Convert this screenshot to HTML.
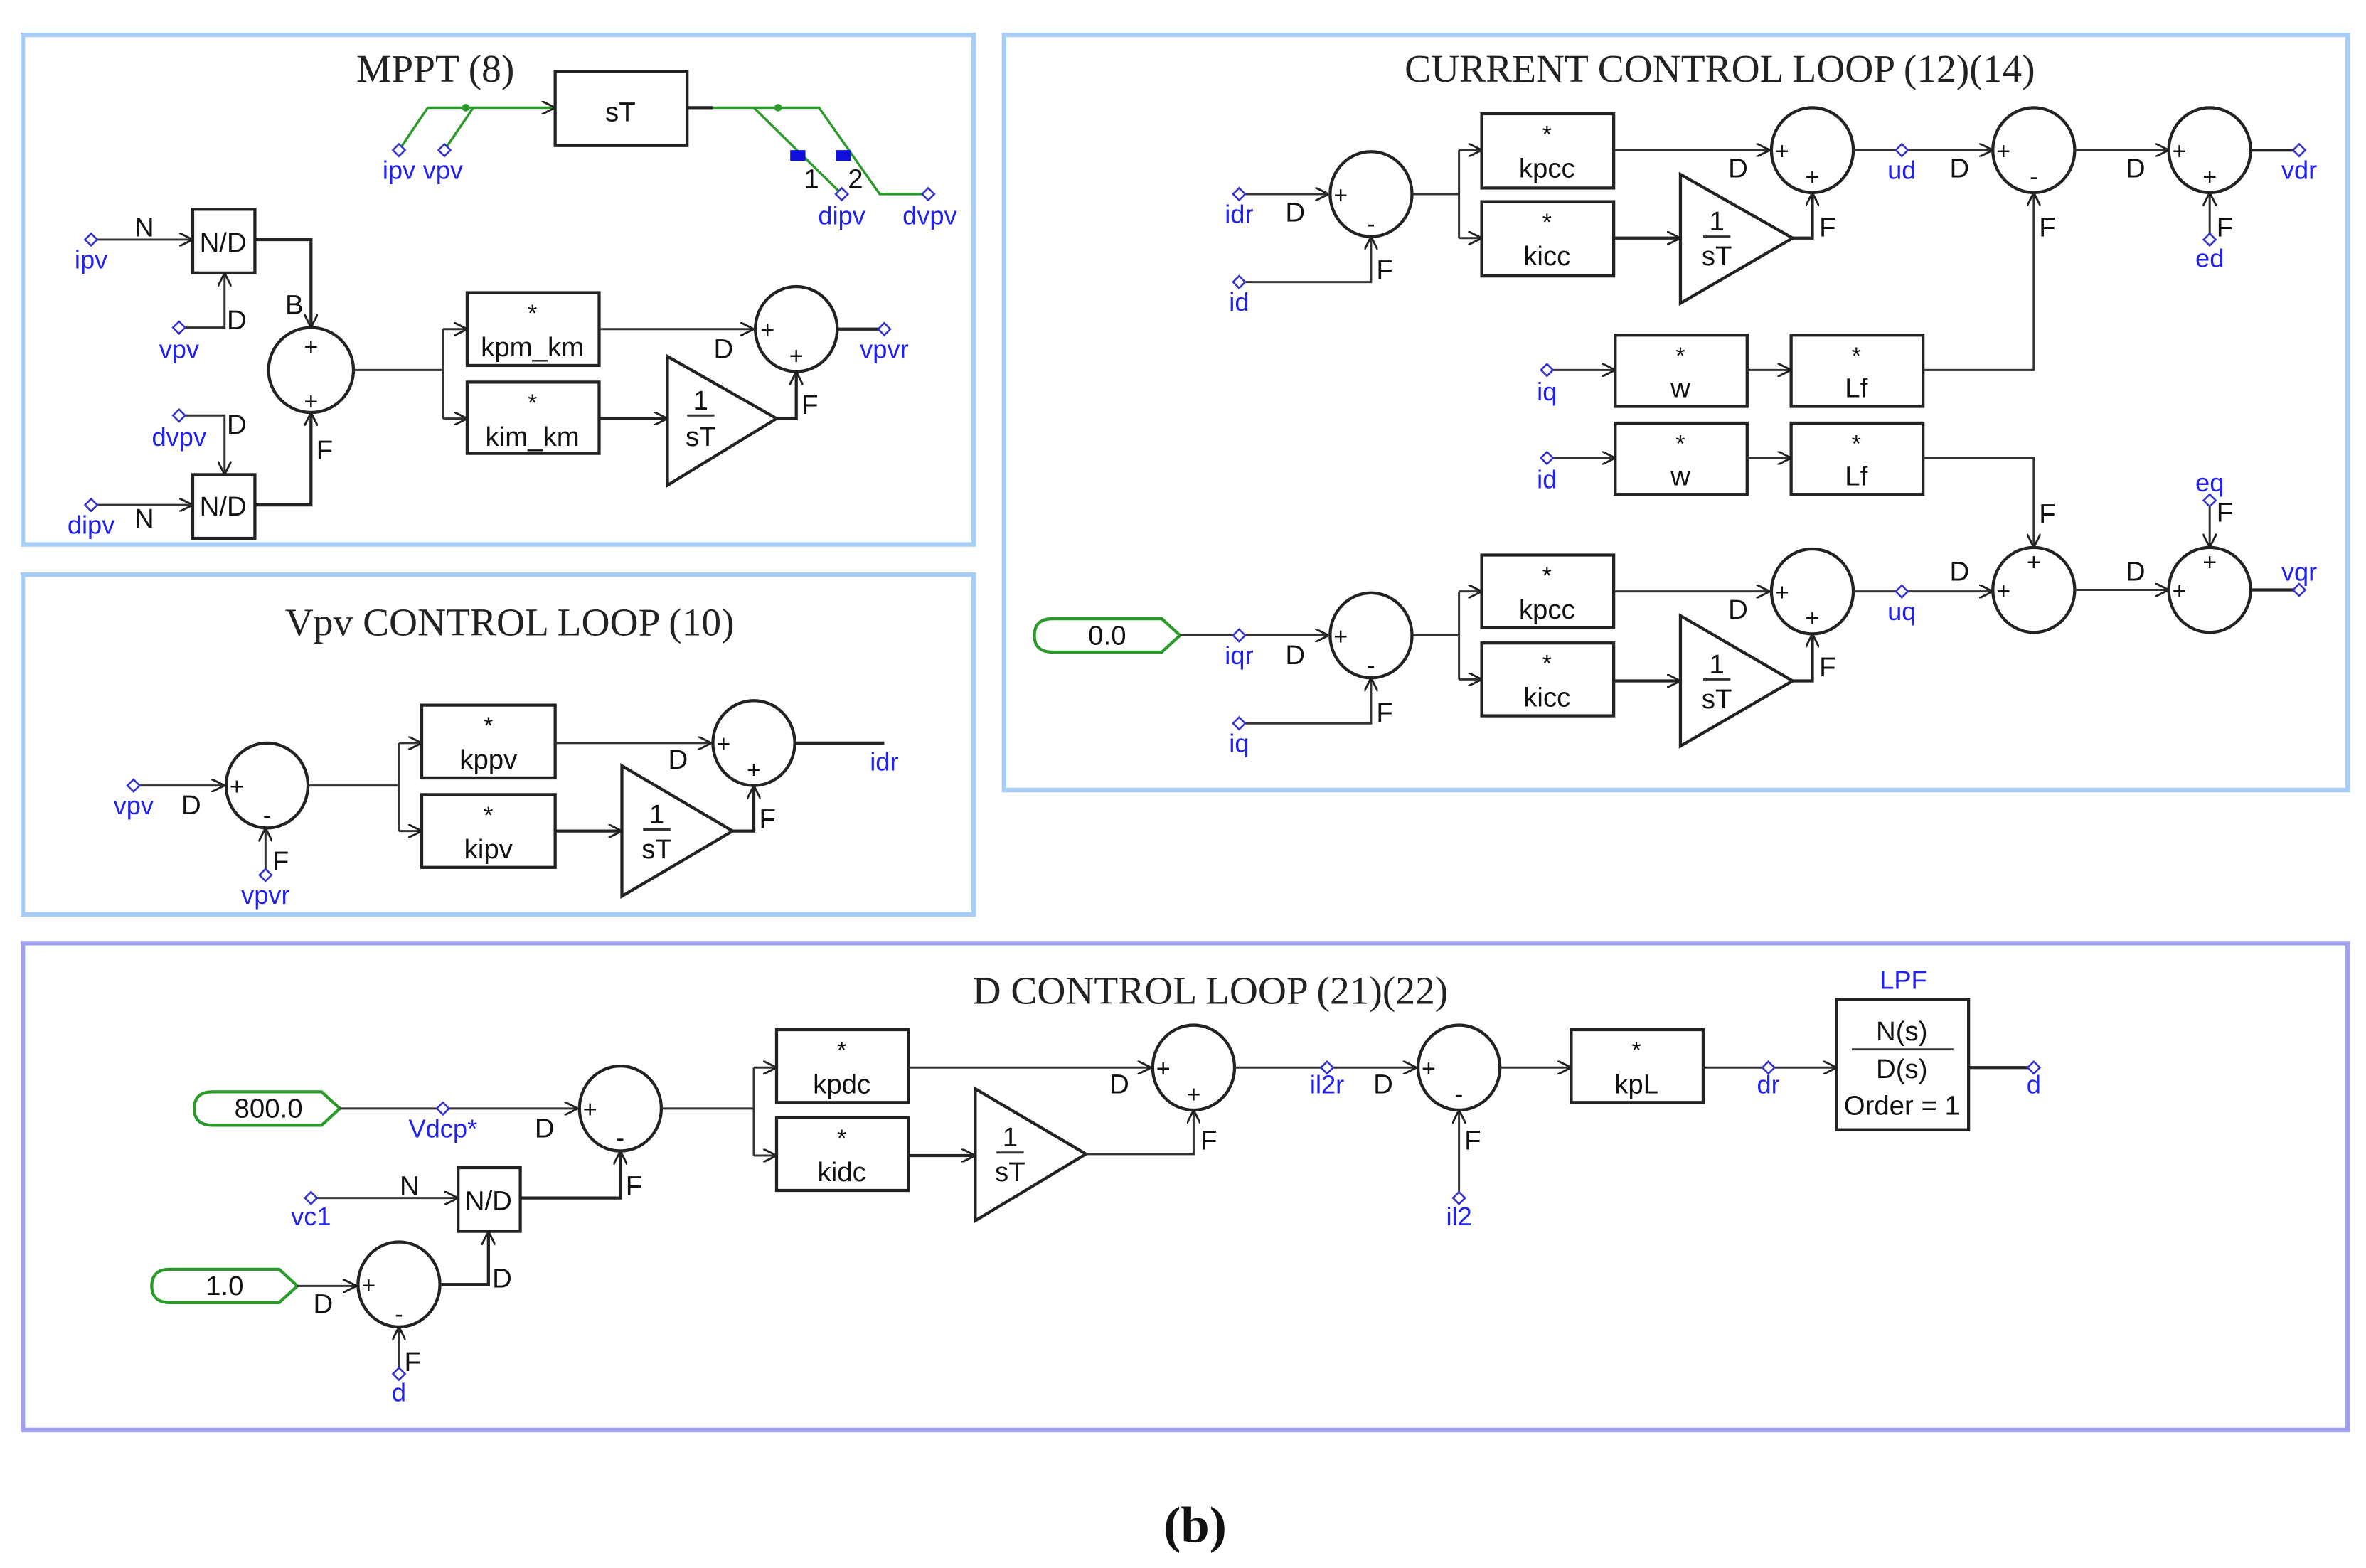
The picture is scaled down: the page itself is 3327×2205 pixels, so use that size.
<!DOCTYPE html>
<html><head><meta charset="utf-8"><style>
html,body{margin:0;padding:0;background:#fff}
svg{display:block}
.b{fill:none;stroke:#222;stroke-width:2}
.w{fill:none;stroke:#333;stroke-width:1.4}
.g{fill:none;stroke:#2a9a2a;stroke-width:1.6}
.t{font-family:"Liberation Sans",sans-serif;font-size:18px;fill:#111;text-anchor:middle}
.s{font-family:"Liberation Sans",sans-serif;font-size:16px;fill:#111;text-anchor:middle}
.l{font-family:"Liberation Sans",sans-serif;font-size:17px;fill:#2222ee;text-anchor:middle}
.h{font-family:"Liberation Serif",serif;font-size:26px;fill:#222;text-anchor:middle}
.p{fill:#fff;stroke:#3333cc;stroke-width:1.2}
</style></head><body>
<svg width="3327" height="2205" viewBox="0 0 1560 1034" xmlns="http://www.w3.org/2000/svg">
<defs>
<marker id="a" viewBox="0 0 10 10" refX="10" refY="5" markerWidth="9" markerHeight="9" orient="auto" markerUnits="userSpaceOnUse"><path d="M0,0 L10,5 L0,10" fill="none" stroke="#222" stroke-width="1.5"/></marker>
<g id="pt"><path d="M0,-4 L4,0 L0,4 L-4,0Z" class="p"/></g>
</defs>
<rect width="1560" height="1034" fill="#fff"/>
<!-- frames -->
<rect x="15" y="23" width="627" height="336" fill="none" stroke="#a8cdf5" stroke-width="3"/>
<rect x="15" y="379" width="627" height="224" fill="none" stroke="#a8cdf5" stroke-width="3"/>
<rect x="662" y="23" width="886" height="498" fill="none" stroke="#a8cdf5" stroke-width="3"/>
<rect x="15" y="622" width="1533" height="321" fill="none" stroke="#a0a0ee" stroke-width="3"/>
<text x="287" y="54" class="h">MPPT (8)</text>
<text x="336" y="419" class="h">Vpv CONTROL LOOP (10)</text>
<text x="1134" y="54" class="h">CURRENT CONTROL LOOP (12)(14)</text>
<text x="798" y="662" class="h">D CONTROL LOOP (21)(22)</text>
<text x="788" y="1017" style="font-family:'Liberation Serif',serif;font-size:34px;font-weight:bold;text-anchor:middle;fill:#111">(b)</text>

<!-- MPPT -->
<rect x="366" y="47" width="87" height="49" class="b"/><text x="409" y="80" class="t">sT</text>
<path d="M263,99 L282,71 L366,71" class="g" marker-end="url(#a)"/>
<path d="M293,99 L312,71" class="g"/>
<circle cx="307" cy="71" r="2.5" fill="#2a9a2a"/>
<path d="M453,71 L470,71" class="b"/><path d="M470,71 L540,71 L580,128 L612,128" class="g"/>
<path d="M497,71 L555,128" class="g"/><circle cx="513" cy="71" r="2.5" fill="#2a9a2a"/>
<rect x="521" y="99" width="10" height="7" fill="#1010dd"/><rect x="551" y="99" width="10" height="7" fill="#1010dd"/>
<text x="535" y="124" class="t">1</text><text x="564" y="124" class="t">2</text>
<use href="#pt" x="263" y="99"/><use href="#pt" x="293" y="99"/><use href="#pt" x="555" y="128"/><use href="#pt" x="612" y="128"/>
<text x="263" y="118" class="l">ipv</text><text x="292" y="118" class="l">vpv</text><text x="555" y="148" class="l">dipv</text><text x="613" y="148" class="l">dvpv</text>

<rect x="127" y="138" width="41" height="42" class="b"/><text x="147" y="166" class="t">N/D</text>
<path d="M60,158 L127,158" class="w" marker-end="url(#a)"/><use href="#pt" x="60" y="158"/><text x="60" y="177" class="l">ipv</text><text x="95" y="156" class="t">N</text>
<path d="M118,216 L148,216 L148,180" class="w" marker-end="url(#a)"/><use href="#pt" x="118" y="216"/><text x="118" y="236" class="l">vpv</text><text x="156" y="217" class="t">D</text>
<path d="M168,158 L205,158 L205,216" class="b" marker-end="url(#a)"/><text x="194" y="207" class="t">B</text>
<ellipse cx="205" cy="244" rx="28" ry="28" class="b"/><text x="205" y="234" class="s">+</text><text x="205" y="270" class="s">+</text>
<rect x="127" y="313" width="41" height="42" class="b"/><text x="147" y="340" class="t">N/D</text>
<path d="M60,333 L127,333" class="w" marker-end="url(#a)"/><use href="#pt" x="60" y="333"/><text x="60" y="352" class="l">dipv</text><text x="95" y="348" class="t">N</text>
<path d="M118,274 L148,274 L148,313" class="w" marker-end="url(#a)"/><use href="#pt" x="118" y="274"/><text x="118" y="294" class="l">dvpv</text><text x="156" y="286" class="t">D</text>
<path d="M168,333 L205,333 L205,272" class="b" marker-end="url(#a)"/><text x="214" y="303" class="t">F</text>
<path d="M233,244 L292,244 M292,217 L292,276" class="w"/>
<path d="M292,217 L308,217" class="w" marker-end="url(#a)"/><path d="M292,276 L308,276" class="w" marker-end="url(#a)"/>
<rect x="308" y="193" width="87" height="48" class="b"/><text x="351" y="212" class="s">*</text><text x="351" y="235" class="t">kpm_km</text>
<rect x="308" y="252" width="87" height="47" class="b"/><text x="351" y="271" class="s">*</text><text x="351" y="294" class="t">kim_km</text>
<path d="M395,217 L497,217" class="w" marker-end="url(#a)"/><text x="477" y="236" class="t">D</text>
<ellipse cx="525" cy="217" rx="27" ry="28" class="b"/><text x="506" y="223" class="s">+</text><text x="525" y="240" class="s">+</text>
<path d="M395,276 L440,276" class="b" marker-end="url(#a)"/>
<path d="M440,235 L512,276 L440,320Z" class="b"/><text x="462" y="270" class="t">1</text><path d="M453,274 L471,274" class="w"/><text x="462" y="294" class="t">sT</text>
<path d="M512,276 L525,276 L525,245" class="b" marker-end="url(#a)"/><text x="534" y="273" class="t">F</text>
<path d="M552,217 L583,217" class="b"/><use href="#pt" x="583" y="217"/><text x="583" y="236" class="l">vpvr</text>

<!-- Vpv loop -->
<path d="M88,518 L148,518" class="w" marker-end="url(#a)"/><use href="#pt" x="88" y="518"/><text x="88" y="537" class="l">vpv</text><text x="126" y="537" class="t">D</text>
<ellipse cx="176" cy="518" rx="27" ry="28" class="b"/><text x="156" y="524" class="s">+</text><text x="176" y="543" class="s">-</text>
<path d="M175,577 L175,546" class="w" marker-end="url(#a)"/><use href="#pt" x="175" y="577"/><text x="175" y="596" class="l">vpvr</text><text x="185" y="574" class="t">F</text>
<path d="M203,518 L263,518 M263,490 L263,548" class="w"/>
<path d="M263,490 L278,490" class="w" marker-end="url(#a)"/><path d="M263,548 L278,548" class="w" marker-end="url(#a)"/>
<rect x="278" y="465" width="88" height="48" class="b"/><text x="322" y="484" class="s">*</text><text x="322" y="507" class="t">kppv</text>
<rect x="278" y="524" width="88" height="48" class="b"/><text x="322" y="543" class="s">*</text><text x="322" y="566" class="t">kipv</text>
<path d="M366,490 L469,490" class="w" marker-end="url(#a)"/><text x="447" y="507" class="t">D</text>
<ellipse cx="497" cy="490" rx="27" ry="28" class="b"/><text x="477" y="496" class="s">+</text><text x="497" y="513" class="s">+</text>
<path d="M366,548 L410,548" class="b" marker-end="url(#a)"/>
<path d="M410,505 L483,548 L410,591Z" class="b"/><text x="433" y="543" class="t">1</text><path d="M424,547 L442,547" class="w"/><text x="433" y="566" class="t">sT</text>
<path d="M483,548 L497,548 L497,518" class="b" marker-end="url(#a)"/><text x="506" y="546" class="t">F</text>
<path d="M524,490 L583,490" class="b"/><text x="583" y="508" class="l">idr</text>

<!-- Current loop top -->
<path d="M817,128 L876,128" class="w" marker-end="url(#a)"/><use href="#pt" x="817" y="128"/><text x="817" y="147" class="l">idr</text><text x="854" y="146" class="t">D</text>
<ellipse cx="904" cy="128" rx="27" ry="28" class="b"/><text x="884" y="134" class="s">+</text><text x="904" y="153" class="s">-</text>
<path d="M817,186 L904,186 L904,156" class="w" marker-end="url(#a)"/><use href="#pt" x="817" y="186"/><text x="817" y="205" class="l">id</text><text x="913" y="184" class="t">F</text>
<path d="M931,128 L962,128 M962,99 L962,157" class="w"/>
<path d="M962,99 L977,99" class="w" marker-end="url(#a)"/><path d="M962,157 L977,157" class="w" marker-end="url(#a)"/>
<rect x="977" y="75" width="87" height="49" class="b"/><text x="1020" y="94" class="s">*</text><text x="1020" y="117" class="t">kpcc</text>
<rect x="977" y="133" width="87" height="49" class="b"/><text x="1020" y="152" class="s">*</text><text x="1020" y="175" class="t">kicc</text>
<path d="M1064,99 L1167,99" class="w" marker-end="url(#a)"/><text x="1146" y="117" class="t">D</text>
<ellipse cx="1195" cy="99" rx="27" ry="28" class="b"/><text x="1175" y="105" class="s">+</text><text x="1195" y="122" class="s">+</text>
<path d="M1064,157 L1108,157" class="b" marker-end="url(#a)"/>
<path d="M1108,115 L1182,157 L1108,200Z" class="b"/><text x="1132" y="152" class="t">1</text><path d="M1123,156 L1141,156" class="w"/><text x="1132" y="175" class="t">sT</text>
<path d="M1182,157 L1195,157 L1195,127" class="b" marker-end="url(#a)"/><text x="1205" y="156" class="t">F</text>
<path d="M1222,99 L1314,99" class="w" marker-end="url(#a)"/><use href="#pt" x="1254" y="99"/><text x="1254" y="118" class="l">ud</text><text x="1292" y="117" class="t">D</text>
<ellipse cx="1341" cy="99" rx="27" ry="28" class="b"/><text x="1321" y="105" class="s">+</text><text x="1341" y="122" class="s">-</text>
<path d="M1268,244 L1341,244 L1341,127" class="w" marker-end="url(#a)"/><text x="1350" y="156" class="t">F</text>
<path d="M1368,99 L1430,99" class="w" marker-end="url(#a)"/><text x="1408" y="117" class="t">D</text>
<ellipse cx="1457" cy="99" rx="27" ry="28" class="b"/><text x="1437" y="105" class="s">+</text><text x="1457" y="122" class="s">+</text>
<path d="M1457,158 L1457,127" class="w" marker-end="url(#a)"/><use href="#pt" x="1457" y="158"/><text x="1457" y="176" class="l">ed</text><text x="1467" y="156" class="t">F</text>
<path d="M1484,99 L1516,99" class="b"/><use href="#pt" x="1516" y="99"/><text x="1516" y="118" class="l">vdr</text>
<!-- middle -->
<path d="M1020,244 L1065,244" class="w" marker-end="url(#a)"/><use href="#pt" x="1020" y="244"/><text x="1020" y="264" class="l">iq</text>
<rect x="1065" y="221" width="87" height="47" class="b"/><text x="1108" y="240" class="s">*</text><text x="1108" y="262" class="t">w</text>
<path d="M1152,244 L1181,244" class="w" marker-end="url(#a)"/>
<rect x="1181" y="221" width="87" height="47" class="b"/><text x="1224" y="240" class="s">*</text><text x="1224" y="262" class="t">Lf</text>
<path d="M1020,302 L1065,302" class="w" marker-end="url(#a)"/><use href="#pt" x="1020" y="302"/><text x="1020" y="322" class="l">id</text>
<rect x="1065" y="279" width="87" height="47" class="b"/><text x="1108" y="298" class="s">*</text><text x="1108" y="320" class="t">w</text>
<path d="M1152,302 L1181,302" class="w" marker-end="url(#a)"/>
<rect x="1181" y="279" width="87" height="47" class="b"/><text x="1224" y="298" class="s">*</text><text x="1224" y="320" class="t">Lf</text>
<path d="M1268,302 L1341,302 L1341,361" class="w" marker-end="url(#a)"/><text x="1350" y="345" class="t">F</text>
<!-- bottom -->
<path d="M682,419 Q682,408 694,408 L766,408 L778,419 L766,430 L694,430 Q682,430 682,419Z" fill="#fff" stroke="#2a9a2a" stroke-width="2"/><text x="730" y="425" class="t">0.0</text>
<path d="M778,419 L876,419" class="w" marker-end="url(#a)"/><use href="#pt" x="817" y="419"/><text x="817" y="438" class="l">iqr</text><text x="854" y="438" class="t">D</text>
<ellipse cx="904" cy="419" rx="27" ry="28" class="b"/><text x="884" y="425" class="s">+</text><text x="904" y="444" class="s">-</text>
<path d="M817,477 L904,477 L904,447" class="w" marker-end="url(#a)"/><use href="#pt" x="817" y="477"/><text x="817" y="496" class="l">iq</text><text x="913" y="476" class="t">F</text>
<path d="M931,419 L962,419 M962,390 L962,448" class="w"/>
<path d="M962,390 L977,390" class="w" marker-end="url(#a)"/><path d="M962,448 L977,448" class="w" marker-end="url(#a)"/>
<rect x="977" y="366" width="87" height="48" class="b"/><text x="1020" y="385" class="s">*</text><text x="1020" y="408" class="t">kpcc</text>
<rect x="977" y="424" width="87" height="48" class="b"/><text x="1020" y="443" class="s">*</text><text x="1020" y="466" class="t">kicc</text>
<path d="M1064,390 L1167,390" class="w" marker-end="url(#a)"/><text x="1146" y="408" class="t">D</text>
<ellipse cx="1195" cy="390" rx="27" ry="28" class="b"/><text x="1175" y="396" class="s">+</text><text x="1195" y="413" class="s">+</text>
<path d="M1064,449 L1108,449" class="b" marker-end="url(#a)"/>
<path d="M1108,406 L1182,449 L1108,492Z" class="b"/><text x="1132" y="444" class="t">1</text><path d="M1123,448 L1141,448" class="w"/><text x="1132" y="467" class="t">sT</text>
<path d="M1182,449 L1195,449 L1195,418" class="b" marker-end="url(#a)"/><text x="1205" y="446" class="t">F</text>
<path d="M1222,390 L1314,390" class="w" marker-end="url(#a)"/><use href="#pt" x="1254" y="390"/><text x="1254" y="409" class="l">uq</text><text x="1292" y="383" class="t">D</text>
<ellipse cx="1341" cy="389" rx="27" ry="28" class="b"/><text x="1321" y="395" class="s">+</text><text x="1341" y="376" class="s">+</text>
<path d="M1368,389 L1430,389" class="w" marker-end="url(#a)"/><text x="1408" y="383" class="t">D</text>
<ellipse cx="1457" cy="389" rx="27" ry="28" class="b"/><text x="1437" y="395" class="s">+</text><text x="1457" y="376" class="s">+</text>
<path d="M1457,330 L1457,361" class="w" marker-end="url(#a)"/><use href="#pt" x="1457" y="330"/><text x="1457" y="324" class="l">eq</text><text x="1467" y="344" class="t">F</text>
<path d="M1484,389 L1516,389" class="b"/><use href="#pt" x="1516" y="389"/><text x="1516" y="383" class="l">vqr</text>

<!-- D loop -->
<path d="M128,731 Q128,720 140,720 L212,720 L224,731 L212,742 L140,742 Q128,742 128,731Z" fill="#fff" stroke="#2a9a2a" stroke-width="2"/><text x="177" y="737" class="t">800.0</text>
<path d="M224,731 L381,731" class="w" marker-end="url(#a)"/><use href="#pt" x="292" y="731"/><text x="292" y="750" class="l">Vdcp*</text><text x="359" y="750" class="t">D</text>
<ellipse cx="409" cy="731" rx="27" ry="28" class="b"/><text x="389" y="737" class="s">+</text><text x="409" y="756" class="s">-</text>
<rect x="302" y="770" width="41" height="42" class="b"/><text x="322" y="798" class="t">N/D</text>
<path d="M205,790 L302,790" class="w" marker-end="url(#a)"/><use href="#pt" x="205" y="790"/><text x="205" y="808" class="l">vc1</text><text x="270" y="788" class="t">N</text>
<path d="M343,790 L409,790 L409,759" class="b" marker-end="url(#a)"/><text x="418" y="788" class="t">F</text>
<path d="M100,848 Q100,837 112,837 L184,837 L196,848 L184,859 L112,859 Q100,859 100,848Z" fill="#fff" stroke="#2a9a2a" stroke-width="2"/><text x="148" y="854" class="t">1.0</text>
<path d="M196,848 L235,848" class="w" marker-end="url(#a)"/><text x="213" y="866" class="t">D</text>
<ellipse cx="263" cy="847" rx="27" ry="28" class="b"/><text x="243" y="853" class="s">+</text><text x="263" y="872" class="s">-</text>
<path d="M263,906 L263,875" class="w" marker-end="url(#a)"/><use href="#pt" x="263" y="906"/><text x="263" y="924" class="l">d</text><text x="272" y="904" class="t">F</text>
<path d="M291,847 L322,847 L322,812" class="b" marker-end="url(#a)"/><text x="331" y="849" class="t">D</text>
<path d="M436,731 L497,731 M497,704 L497,762" class="w"/>
<path d="M497,704 L512,704" class="w" marker-end="url(#a)"/><path d="M497,762 L512,762" class="w" marker-end="url(#a)"/>
<rect x="512" y="679" width="87" height="48" class="b"/><text x="555" y="698" class="s">*</text><text x="555" y="721" class="t">kpdc</text>
<rect x="512" y="737" width="87" height="48" class="b"/><text x="555" y="756" class="s">*</text><text x="555" y="779" class="t">kidc</text>
<path d="M599,704 L759,704" class="w" marker-end="url(#a)"/><text x="738" y="721" class="t">D</text>
<ellipse cx="787" cy="704" rx="27" ry="28" class="b"/><text x="767" y="710" class="s">+</text><text x="787" y="727" class="s">+</text>
<path d="M599,762 L643,762" class="b" marker-end="url(#a)"/>
<path d="M643,718 L716,761 L643,805Z" class="b"/><text x="666" y="756" class="t">1</text><path d="M657,760 L675,760" class="w"/><text x="666" y="779" class="t">sT</text>
<path d="M716,761 L787,761 L787,732" class="w" marker-end="url(#a)"/><text x="797" y="758" class="t">F</text>
<path d="M814,704 L934,704" class="w" marker-end="url(#a)"/><use href="#pt" x="875" y="704"/><text x="875" y="721" class="l">il2r</text><text x="912" y="721" class="t">D</text>
<ellipse cx="962" cy="704" rx="27" ry="28" class="b"/><text x="942" y="710" class="s">+</text><text x="962" y="727" class="s">-</text>
<path d="M962,790 L962,732" class="w" marker-end="url(#a)"/><use href="#pt" x="962" y="790"/><text x="962" y="808" class="l">il2</text><text x="971" y="758" class="t">F</text>
<path d="M989,704 L1036,704" class="w" marker-end="url(#a)"/>
<rect x="1036" y="679" width="87" height="48" class="b"/><text x="1079" y="698" class="s">*</text><text x="1079" y="721" class="t">kpL</text>
<path d="M1123,704 L1211,704" class="w" marker-end="url(#a)"/><use href="#pt" x="1166" y="704"/><text x="1166" y="721" class="l">dr</text>
<rect x="1211" y="659" width="87" height="86" class="b"/>
<text x="1255" y="652" class="l">LPF</text>
<text x="1254" y="686" class="t">N(s)</text><path d="M1221,692 L1288,692" class="w"/><text x="1254" y="711" class="t">D(s)</text><text x="1254" y="735" class="t">Order = 1</text>
<path d="M1298,704 L1341,704" class="b"/><use href="#pt" x="1341" y="704"/><text x="1341" y="721" class="l">d</text>
</svg>
</body></html>
